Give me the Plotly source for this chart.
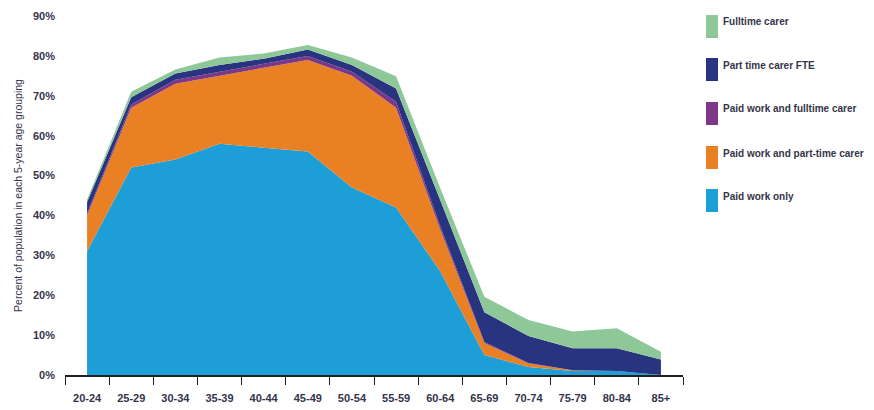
import plotly.graph_objects as go

age_groups = ["20-24", "25-29", "30-34", "35-39", "40-44", "45-49", "50-54",
              "55-59", "60-64", "65-69", "70-74", "75-79", "80-84", "85+"]

paid_work_only = [31, 52, 54, 58, 57, 56, 47, 42, 26, 5, 2, 1, 1, 0]
paid_work_part_time_carer = [9, 15, 19, 17, 20, 23, 28, 25, 10.5, 3, 0.9, 0.2, 0, 0]
paid_work_fulltime_carer = [0.5, 0.8, 1, 1, 1, 1, 1, 1.5, 0.8, 0.3, 0.1, 0, 0, 0]
part_time_carer_fte = [2.9, 1.8, 1.6, 1.7, 1.3, 1.6, 1.7, 3.3, 6.6, 7.4, 6.8, 5.5, 5.7, 3.9]
fulltime_carer = [0.6, 1.4, 1.0, 1.9, 1.3, 1.1, 1.9, 3.1, 3.0, 3.9, 4.0, 4.2, 5.0, 1.9]

y_ticks = [0, 10, 20, 30, 40, 50, 60, 70, 80, 90]

series = [
    ("Paid work only", paid_work_only, "#1E9ED7"),
    ("Paid work and part-time carer", paid_work_part_time_carer, "#E98024"),
    ("Paid work and fulltime carer", paid_work_fulltime_carer, "#7D3787"),
    ("Part time carer FTE", part_time_carer_fte, "#293480"),
    ("Fulltime carer", fulltime_carer, "#8FC898"),
]

FONT = "Liberation Sans, Arial, sans-serif"
TXT = "#34344a"

# page body has an 8px default margin: figure sits at (8, 8) in the window
OFF = 8
W, H = 874 - OFF, 410 - OFF
# plot area in window pixels: x 65..683, y 16..375
L, T = 65 - OFF, 16 - OFF
PW, PH = 618, 359
R = W - L - PW
B = H - T - PH


def px_x(x):
    return (x - OFF - L) / PW


def px_y(y):
    return (T + PH - (y - OFF)) / PH


fig = go.Figure()
for name, vals, col in series:
    fig.add_trace(go.Scatter(
        x=age_groups, y=vals, name=name, mode="lines",
        stackgroup="one", line=dict(width=0, color=col),
        fillcolor=col, showlegend=False,
    ))

# custom legend (top item = last series)
sw_tops = [15, 58, 102, 146, 189]
for top, (name, vals, col) in zip(sw_tops, reversed(series)):
    fig.add_shape(type="rect", xref="paper", yref="paper",
                  x0=px_x(706), x1=px_x(718),
                  y0=px_y(top + 23), y1=px_y(top), fillcolor=col, line=dict(width=0))
    fig.add_annotation(xref="paper", yref="paper",
                       x=px_x(721), y=px_y(top + 7),
                       xanchor="left", yanchor="middle", showarrow=False,
                       text=name, font=dict(family=FONT, size=10, color=TXT, weight="bold"))

fig.update_layout(
    width=W, height=H,
    margin=dict(l=L, r=R, t=T, b=B, autoexpand=False),
    plot_bgcolor="white", paper_bgcolor="white",
    font=dict(family=FONT, color=TXT),
    showlegend=False,
)
fig.update_xaxes(
    type="category", range=[-0.5, 13.5], tickson="boundaries",
    ticks="outside", ticklen=8, tickwidth=1.3, tickcolor="#222",
    showline=True, linecolor="#222", linewidth=1.5,
    showgrid=False, zeroline=False, automargin=False,
    tickfont=dict(family=FONT, size=11, color=TXT, weight="bold"),
    ticklabelstandoff=12,
)
fig.update_yaxes(
    range=[0, 90], tickvals=y_ticks, ticktext=[f"{v}%" for v in y_ticks],
    showgrid=False, zeroline=False, showline=False, ticks="",
    automargin=False,
    tickfont=dict(family=FONT, size=11, color=TXT, weight="bold"),
    ticklabelstandoff=9,
    title=dict(text="Percent of population in each 5-year age grouping",
               font=dict(family=FONT, size=10.5, color=TXT), standoff=8),
)

fig.write_html("out.html")
